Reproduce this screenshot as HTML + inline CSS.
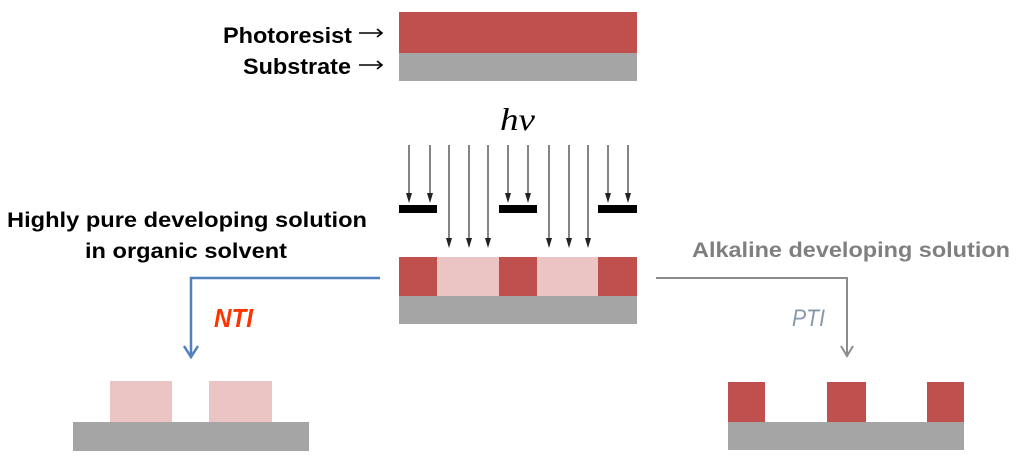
<!DOCTYPE html>
<html><head><meta charset="utf-8"><style>
html,body{margin:0;padding:0;background:#fff;}
svg{display:block;}
</style></head><body>
<svg width="1020" height="462" viewBox="0 0 1020 462" xmlns="http://www.w3.org/2000/svg">
<defs>
<marker id="ah" markerWidth="8" markerHeight="12" refX="4" refY="11" orient="auto" markerUnits="userSpaceOnUse" viewBox="0 0 8 12">
</marker>
</defs>
<!-- top stack -->
<rect x="399" y="12" width="238" height="41" fill="#c0504d"/>
<rect x="399" y="53" width="238" height="28" fill="#a5a5a5"/>
<g font-family="Liberation Sans, sans-serif" font-weight="bold" fill="#000">
<text x="223" y="43" font-size="22" textLength="129" lengthAdjust="spacingAndGlyphs">Photoresist</text>
<text x="243" y="74" font-size="22" textLength="108" lengthAdjust="spacingAndGlyphs">Substrate</text>
</g>
<g stroke="#000" stroke-width="1.6" fill="none">
<line x1="359" y1="33" x2="382" y2="33"/><polyline points="377,29 382,33 377,37"/>
<line x1="359" y1="65" x2="382" y2="65"/><polyline points="377,61 382,65 377,69"/>
</g>
<text x="500" y="130" font-family="Liberation Serif, serif" font-style="italic" font-size="32" fill="#000" textLength="35" lengthAdjust="spacingAndGlyphs">hν</text>

<!-- exposure arrows -->
<g stroke="#666" stroke-width="1.6">
<line x1="409" y1="145" x2="409" y2="195"/><line x1="430" y1="145" x2="430" y2="195"/>
<line x1="508" y1="145" x2="508" y2="195"/><line x1="528" y1="145" x2="528" y2="195"/>
<line x1="608" y1="145" x2="608" y2="195"/><line x1="628" y1="145" x2="628" y2="195"/>
<line x1="449" y1="145" x2="449" y2="240"/><line x1="469" y1="145" x2="469" y2="240"/><line x1="488" y1="145" x2="488" y2="240"/>
<line x1="549" y1="145" x2="549" y2="240"/><line x1="569" y1="145" x2="569" y2="240"/><line x1="588" y1="145" x2="588" y2="240"/>
</g>
<g fill="#222">
<polygon points="406,193 412,193 409,203"/><polygon points="427,193 433,193 430,203"/>
<polygon points="505,193 511,193 508,203"/><polygon points="525,193 531,193 528,203"/>
<polygon points="605,193 611,193 608,203"/><polygon points="625,193 631,193 628,203"/>
<polygon points="446,238 452,238 449,248"/><polygon points="466,238 472,238 469,248"/><polygon points="485,238 491,238 488,248"/>
<polygon points="546,238 552,238 549,248"/><polygon points="566,238 572,238 569,248"/><polygon points="585,238 591,238 588,248"/>
</g>
<!-- masks -->
<g fill="#000">
<rect x="399" y="205" width="38" height="8"/>
<rect x="499" y="205" width="38" height="8"/>
<rect x="598" y="205" width="39" height="8"/>
</g>
<!-- middle stack -->
<rect x="399" y="257" width="238" height="39" fill="#ebc4c4"/>
<rect x="399" y="257" width="38" height="39" fill="#c0504d"/>
<rect x="499" y="257" width="38" height="39" fill="#c0504d"/>
<rect x="598" y="257" width="39" height="39" fill="#c0504d"/>
<rect x="399" y="296" width="238" height="28" fill="#a5a5a5"/>

<!-- left text -->
<g font-family="Liberation Sans, sans-serif" font-weight="bold" fill="#000" font-size="21">
<text x="7" y="227" textLength="360" lengthAdjust="spacingAndGlyphs">Highly pure developing solution</text>
<text x="85" y="258" textLength="202" lengthAdjust="spacingAndGlyphs">in organic solvent</text>
</g>
<!-- blue connector -->
<polyline points="380,278 191,278 191,356" fill="none" stroke="#4f81bd" stroke-width="2.5"/>
<polyline points="184,346 191,357 198,346" fill="none" stroke="#4f81bd" stroke-width="2.5"/>
<text x="214" y="327" font-family="Liberation Sans, sans-serif" font-weight="bold" font-style="italic" font-size="26" fill="#ff3300" textLength="39" lengthAdjust="spacingAndGlyphs">NTI</text>

<!-- right text -->
<text x="692" y="257" font-family="Liberation Sans, sans-serif" font-weight="bold" font-size="21" fill="#7f7f7f" textLength="318" lengthAdjust="spacingAndGlyphs">Alkaline developing solution</text>
<polyline points="656,278 847,278 847,356" fill="none" stroke="#8c8c8c" stroke-width="2"/>
<polyline points="841,346 847,356 853,346" fill="none" stroke="#8c8c8c" stroke-width="2"/>
<text x="792" y="326" font-family="Liberation Sans, sans-serif" font-style="italic" font-size="24" fill="#8898ab" textLength="33" lengthAdjust="spacingAndGlyphs">PTI</text>

<!-- bottom left -->
<rect x="110" y="381" width="62" height="41" fill="#ebc4c4"/>
<rect x="209" y="381" width="63" height="41" fill="#ebc4c4"/>
<rect x="73" y="422" width="236" height="29" fill="#a5a5a5"/>

<!-- bottom right -->
<rect x="728" y="382" width="37" height="40" fill="#c0504d"/>
<rect x="827" y="382" width="39" height="40" fill="#c0504d"/>
<rect x="927" y="382" width="37" height="40" fill="#c0504d"/>
<rect x="728" y="422" width="236" height="28" fill="#a5a5a5"/>
</svg>
</body></html>
